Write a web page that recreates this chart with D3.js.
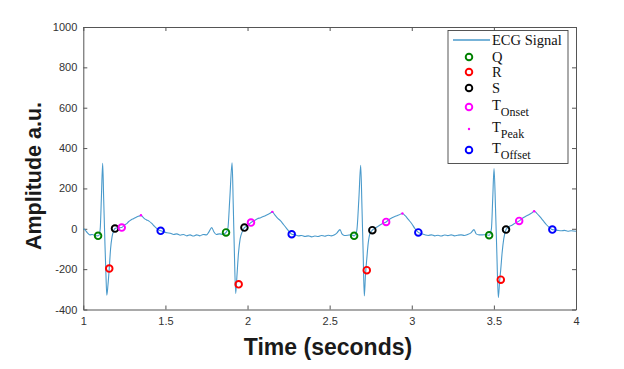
<!DOCTYPE html>
<html><head><meta charset="utf-8">
<script src="https://cdn.jsdelivr.net/npm/d3@7"></script>
<style>body{margin:0;background:#fff;}svg{display:block;}</style>
</head><body>
<svg id="c" width="624" height="369"></svg>
<script>
// ---- data ----
const sigT = [1.000,1.010,1.025,1.040,1.055,1.070,1.085,1.095,1.103,1.110,1.118,1.124,1.132,1.138,1.143,1.150,1.158,1.166,1.175,1.185,1.193,1.210,1.234,1.250,1.262,1.275,1.290,1.305,1.320,1.335,1.345,1.351,1.360,1.372,1.385,1.400,1.415,1.430,1.445,1.458,1.471,1.490,1.510,1.530,1.550,1.570,1.590,1.610,1.630,1.650,1.670,1.690,1.710,1.730,1.750,1.765,1.782,1.795,1.810,1.830,1.850,1.869,
1.880,1.892,1.906,1.913,1.920,1.928,1.935,1.945,1.955,1.965,1.981,2.000,2.021,2.040,2.060,2.080,2.100,2.120,2.140,2.151,2.165,2.180,2.200,2.220,2.240,2.255,2.269,2.290,2.310,2.330,2.350,2.370,2.390,2.410,2.430,2.450,2.470,2.490,2.510,2.530,2.545,2.563,2.575,2.590,2.610,2.630,2.649,
2.665,2.678,2.689,2.697,2.704,2.711,2.718,2.726,2.735,2.745,2.760,2.780,2.800,2.820,2.844,2.860,2.880,2.900,2.920,2.943,2.960,2.980,3.000,3.020,3.040,3.060,3.080,3.100,3.120,3.140,3.160,3.180,3.200,3.220,3.240,3.260,3.280,3.300,3.320,3.340,3.360,3.379,3.392,3.410,3.430,3.450,3.471,
3.485,3.493,3.501,3.510,3.518,3.527,3.535,3.542,3.550,3.560,3.574,3.590,3.610,3.630,3.654,3.670,3.690,3.710,3.730,3.745,3.760,3.780,3.800,3.820,3.840,3.856,3.870,3.890,3.910,3.930,3.950,3.970,4.000];
const sigV = [0,-5,-20,-30,-28,-33,-35,-33,0,150,324,150,-80,-230,-329,-280,-197,-100,-40,-10,1,5,6,18,24,35,44,50,56,62,64,67,60,50,44,38,28,15,3,-5,-10,-15,-20,-22,-28,-25,-32,-28,-35,-30,-36,-30,-35,-28,-30,-15,6,-15,-28,-25,-28,-18,
0,150,327,120,-120,-321,-240,-120,-50,-20,6,15,31,40,50,55,62,70,78,84,70,55,40,20,0,-15,-27,-30,-35,-33,-38,-35,-40,-36,-38,-33,-37,-32,-35,-30,-20,-4,-25,-33,-32,-30,-35,
-10,150,315,100,-120,-333,-230,-150,-70,-25,-7,5,15,25,34,45,55,62,68,76,65,45,25,0,-18,-25,-30,-33,-30,-35,-32,-36,-31,-34,-30,-35,-32,-30,-33,-28,-20,-4,-25,-30,-30,-29,-32,
0,150,299,100,-120,-341,-260,-200,-120,-50,-4,10,18,28,39,50,60,68,78,87,78,60,40,20,5,-4,-5,-8,-10,-8,-12,-10,-12];

const qT = [1.090, 1.869, 2.649, 3.471],    qV = [-35, -18, -35, -32];
const rT = [1.158, 1.946, 2.726, 3.542],    rV = [-197, -275, -205, -252];
const sT = [1.193, 1.981, 2.760, 3.574],    sV = [1, 6, -7, -4];
const tOnT = [1.234, 2.021, 2.844, 3.654],  tOnV = [6, 31, 34, 39];
const tPkT = [1.351, 2.151, 2.943, 3.745],  tPkV = [67, 84, 76, 87];
const tOffT = [1.471, 2.269, 3.040, 3.856], tOffV = [-10, -27, -18, -4];

const xTicks = [1, 1.5, 2, 2.5, 3, 3.5, 4];
const xTickLabels = ["1", "1.5", "2", "2.5", "3", "3.5", "4"];
const yTicks = [-400, -200, 0, 200, 400, 600, 800, 1000];
const yTickLabels = ["-400", "-200", "0", "200", "400", "600", "800", "1000"];

const legendNames = ["ECG Signal", "Q", "R", "S", "T", "T", "T"];
const legendSubs = ["", "", "", "", "Onset", "Peak", "Offset"];

// ---- drawing ----
const svg = d3.select("#c");
const L = 83.3, R = 576, T = 27, B = 309.5;
const x = d3.scaleLinear().domain([1, 4]).range([L, R]);
const y = d3.scaleLinear().domain([-400, 1000]).range([B, T]);
const axisCol = "#555";
const tickFont = "'Liberation Sans', Arial, sans-serif";

function styleAxis(g) {
  g.selectAll("path.domain").attr("stroke", axisCol).attr("stroke-width", 1);
  g.selectAll(".tick line").attr("stroke", axisCol).attr("stroke-width", 1);
  g.selectAll(".tick text").attr("fill", "#333").style("font-family", tickFont).style("font-size", "11px");
}

svg.append("g").attr("transform", `translate(0,${B})`)
  .call(d3.axisBottom(x).tickValues(xTicks).tickFormat((d, i) => xTickLabels[i]).tickSizeInner(-4).tickSizeOuter(0).tickPadding(8))
  .call(styleAxis);
svg.append("g").attr("transform", `translate(0,${T})`)
  .call(d3.axisTop(x).tickValues(xTicks).tickFormat("").tickSizeInner(-4).tickSizeOuter(0))
  .call(styleAxis);
svg.append("g").attr("transform", `translate(${L},0)`)
  .call(d3.axisLeft(y).tickValues(yTicks).tickFormat((d, i) => yTickLabels[i]).tickSizeInner(-4).tickSizeOuter(0).tickPadding(6))
  .call(styleAxis);
svg.append("g").attr("transform", `translate(${R},0)`)
  .call(d3.axisRight(y).tickValues(yTicks).tickFormat("").tickSizeInner(-4).tickSizeOuter(0))
  .call(styleAxis);

// signal
const sig = sigT.map((t, i) => [t, sigV[i]]);
svg.append("path").datum(sig)
  .attr("fill", "none").attr("stroke", "#4a9acb").attr("stroke-width", 1.1)
  .attr("d", d3.line().x(d => x(d[0])).y(d => y(d[1])).curve(d3.curveMonotoneX));

const markerSets = [
  {t: qT, v: qV, c: "#008000"},
  {t: rT, v: rV, c: "#ff0000"},
  {t: sT, v: sV, c: "#000000"},
  {t: tOnT, v: tOnV, c: "#ff00ff"},
  {t: tOffT, v: tOffV, c: "#0000ff"}
];
markerSets.forEach(s => {
  svg.append("g").selectAll("circle").data(s.t.map((t, i) => [t, s.v[i]])).join("circle")
    .attr("cx", d => x(d[0])).attr("cy", d => y(d[1])).attr("r", 3.3)
    .attr("fill", "none").attr("stroke", s.c).attr("stroke-width", 1.9);
});
svg.append("g").selectAll("circle").data(tPkT.map((t, i) => [t, tPkV[i]])).join("circle")
  .attr("cx", d => x(d[0])).attr("cy", d => y(d[1])).attr("r", 1.2).attr("fill", "#ff00ff");

// legend
const lg = svg.append("g");
lg.append("rect").attr("x", 448).attr("y", 30.5).attr("width", 120).attr("height", 133)
  .attr("fill", "#fff").attr("stroke", "#444").attr("stroke-width", 0.9);
const rowsY = [40, 57, 72, 88, 107, 129, 150];
const serif = "'Liberation Serif', 'Times New Roman', serif";
lg.append("line").attr("x1", 453).attr("x2", 490).attr("y1", rowsY[0]).attr("y2", rowsY[0])
  .attr("stroke", "#4a9acb").attr("stroke-width", 1.3);
const legendColors = [null, "#008000", "#ff0000", "#000000", "#ff00ff", "dot", "#0000ff"];
legendNames.forEach((name, i) => {
  const yy = rowsY[i];
  const c = legendColors[i];
  if (c === "dot") {
    lg.append("circle").attr("cx", 469).attr("cy", yy).attr("r", 1.2).attr("fill", "#ff00ff");
  } else if (c) {
    lg.append("circle").attr("cx", 469).attr("cy", yy).attr("r", 3.3).attr("fill", "none").attr("stroke", c).attr("stroke-width", 1.9);
  }
  const txt = lg.append("text").attr("x", 492).attr("y", yy + (legendSubs[i] ? 3 : 5))
    .style("font-family", serif).style("font-size", "14.5px").attr("fill", "#111").text(name);
  if (legendSubs[i]) {
    txt.append("tspan").attr("dy", 6).style("font-size", "12px").text(legendSubs[i]);
  }
});

// axis titles
svg.append("text").attr("x", 328).attr("y", 355).attr("text-anchor", "middle")
  .style("font-family", tickFont).style("font-weight", "bold").style("font-size", "23px").attr("fill", "#1a1a1a")
  .text("Time (seconds)");
svg.append("text").attr("transform", "translate(41,176) rotate(-90)").attr("text-anchor", "middle")
  .style("font-family", tickFont).style("font-weight", "bold").style("font-size", "21.5px").attr("fill", "#1a1a1a")
  .text("Amplitude a.u.");
</script>
</body></html>
